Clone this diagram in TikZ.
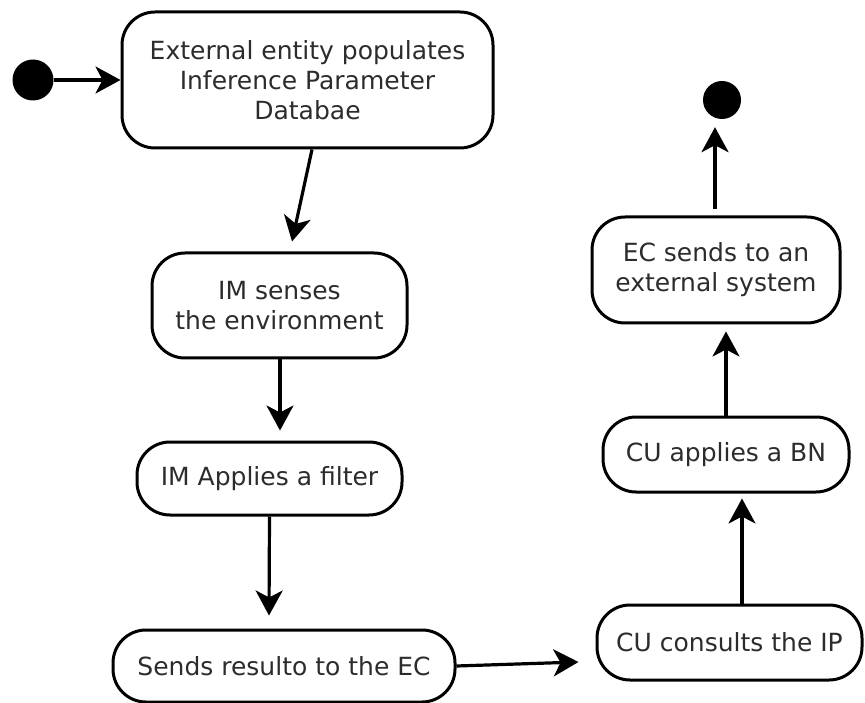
\documentclass[tikz,border=0pt]{standalone}
\usepackage{fontspec}
\setmainfont{DejaVu Sans}
\usetikzlibrary{arrows.meta}
\definecolor{labelgray}{RGB}{44,44,44}
\begin{document}
\begin{tikzpicture}[x=1pt,y=-1pt,
  state/.style={draw=black, line width=3pt, fill=white, rounded corners=33pt,
    align=center, text=labelgray, inner sep=0pt,
    font=\fontsize{25}{30}\selectfont},
  dot/.style={circle, fill=black, inner sep=0pt, minimum size=#1},
  flow/.style={line width=3.2pt, -{Stealth[length=25pt,width=27pt,inset=7pt]}}]
  \useasboundingbox (0,0) rectangle (865,703);

  % initial and final pseudo-states
  \node[dot=41pt] (start) at (33,80) {};
  \node[dot=38pt] (finish) at (722,100) {};

  % activity states, left column
  \node[state, minimum width=371pt, minimum height=136pt] (populate) at (307.5,80)
    {External entity populates\\Inference Parameter\\Databae};
  \node[state, minimum width=255pt, minimum height=105pt] (sense) at (279.5,305.5)
    {IM senses\\the environment};
  \node[state, minimum width=265pt, minimum height=73pt] (filter) at (269.5,478.5)
    {IM Applies a filter};
  \node[state, minimum width=342pt, minimum height=72pt] (send) at (284,666)
    {Sends resulto to the EC};

  % activity states, right column
  \node[state, minimum width=265pt, minimum height=75pt] (consult) at (729.5,642.5)
    {CU consults the IP};
  \node[state, minimum width=246pt, minimum height=75pt] (bayes) at (726,454.5)
    {CU applies a BN};
  \node[state, minimum width=248pt, minimum height=106pt] (external) at (716,270)
    {EC sends to an\\external system};

  % transitions
  \draw[flow] (start.east) -- (populate.west);
  \draw[flow] ([xshift=4.5pt]populate.south) -- ([xshift=12.5pt,yshift=10pt]sense.north);
  \draw[flow] ([xshift=0.5pt]sense.south) -- ([xshift=10.5pt,yshift=10pt]filter.north);
  \draw[flow] (filter.south) -- ([xshift=-15pt,yshift=13pt]send.north);
  \draw[flow] (send.east) -- ([xshift=-17pt,yshift=-19.5pt]consult.west);
  \draw[flow] ([xshift=12.5pt]consult.north) -- ([xshift=16pt,yshift=-5pt]bayes.south);
  \draw[flow] (bayes.north) -- ([xshift=10pt,yshift=-7pt]external.south);
  \draw[flow] ([xshift=-1pt,yshift=6pt]external.north) -- ([xshift=-7pt,yshift=-8pt]finish.south);
\end{tikzpicture}
\end{document}
